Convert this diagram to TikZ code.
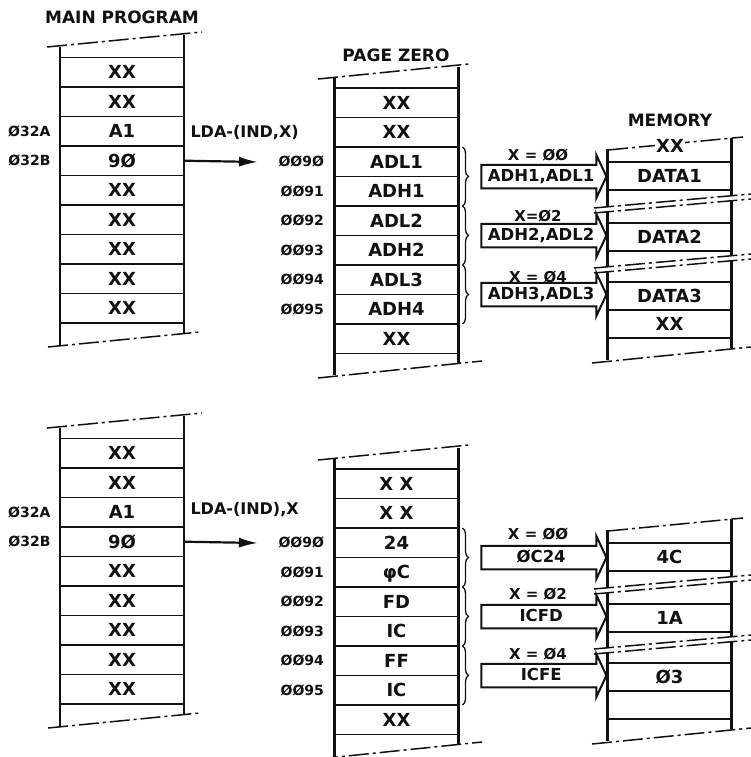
\documentclass[tikz,border=0pt]{standalone}
\usepackage{fontspec}
\setmainfont{DejaVu Sans}
\usepackage{tikz}
\usetikzlibrary{arrows.meta,positioning,calc,shapes.arrows,decorations.pathreplacing}
\usepackage{xcolor}
\definecolor{ink}{HTML}{111111}
\newcommand{\cellfont}{\fontsize{18}{20}\selectfont\bfseries}
\newcommand{\addrfont}{\fontsize{14}{16}\selectfont\bfseries}
\newcommand{\opfont}{\fontsize{16}{18}\selectfont\bfseries}
\newcommand{\titlefont}{\fontsize{17}{19}\selectfont\bfseries}
\newcommand{\eqfont}{\fontsize{15}{17}\selectfont\bfseries}
\newcommand{\boxfont}{\fontsize{16.5}{18}\selectfont\bfseries}
\tikzset{
  every node/.style={font=\cellfont,text=ink},
  cell/.style={draw=ink,line width=1.7pt,minimum width=124pt,minimum height=29.5pt,outer sep=0pt,inner sep=0pt,text height=13pt,text depth=0pt},
  memcell/.style={cell,minimum height=28pt},
  colline/.style={draw=ink,line width=2.2pt},
  cutline/.style={draw=ink,line width=1.5pt,dash pattern=on 20pt off 4pt on 3pt off 4pt},
  cutgap/.style={fill=white},
  title/.style={font=\titlefont},
  addr/.style={font=\addrfont},
  opname/.style={font=\opfont},
  eqlabel/.style={font=\eqfont,inner sep=1pt},
  fatarrow/.style={single arrow,draw=ink,line width=2pt,fill=white,font=\boxfont,single arrow head extend=10pt,single arrow tip angle=130,minimum height=125pt,inner xsep=3pt,inner ysep=4.5pt,text height=11.5pt,text depth=1pt},
  ptr/.style={line width=2.2pt,draw=ink,-{Latex[length=19pt,width=10pt]}},
  pairbrace/.style={draw=ink,line width=1.3pt,decorate,decoration={brace,amplitude=6pt}},
}

\begin{document}
\begin{tikzpicture}[x=1pt,y=-1pt]
\useasboundingbox[fill=white] (0,0) rectangle (751,757);

% ---------- LDA-(IND,X) ----------
\node[title] (tmain) at (122,17) {MAIN PROGRAM};
\node[title] (tpage) at (396,55) {PAGE ZERO};
\node[title] (tmem) at (670,120) {MEMORY};

% main program
\node[cell] (m1) at (122,72.2) {XX};
\node[cell,below=0pt of m1] (m2) {XX};
\node[cell,below=0pt of m2] (m3) {A1};
\node[cell,below=0pt of m3] (m4) {9Ø};
\node[cell,below=0pt of m4] (m5) {XX};
\node[cell,below=0pt of m5] (m6) {XX};
\node[cell,below=0pt of m6] (m7) {XX};
\node[cell,below=0pt of m7] (m8) {XX};
\node[cell,below=0pt of m8] (m9) {XX};
\draw[colline] (60,47) -- (60,345);
\draw[colline] (184,35) -- (184,333);
\draw[cutline] (47,47) -- (202,32);
\draw[cutline] (48,347) -- (200,332);

\node[addr,left=6pt of m3] (m32a) {Ø32A};
\node[addr,left=6pt of m4] (m32b) {Ø32B};
\node[opname,anchor=west] (op1) at (187,133) {LDA-(IND,X)};
\coordinate (lda1) at (258,162);
\draw[ptr] (m4.east) -- (lda1);

% page zero
\node[cell] (p1) at (396.5,102.75) {XX};
\node[cell,below=0pt of p1] (p2) {XX};
\node[cell,below=0pt of p2] (p3) {ADL1};
\node[cell,below=0pt of p3] (p4) {ADH1};
\node[cell,below=0pt of p4] (p5) {ADL2};
\node[cell,below=0pt of p5] (p6) {ADH2};
\node[cell,below=0pt of p6] (p7) {ADL3};
\node[cell,below=0pt of p7] (p8) {ADH4};
\node[cell,below=0pt of p8] (p9) {XX};
\draw[colline] (334.5,78) -- (334.5,375);
\draw[colline] (458.5,67) -- (458.5,363);
\draw[cutline] (318,79) -- (469,64);
\draw[cutline] (318,378) -- (482,361);

\node[addr,left=7pt of p3] (z90) {ØØ9Ø};
\node[addr,left=7pt of p4] (z91) {ØØ91};
\node[addr,left=7pt of p5] (z92) {ØØ92};
\node[addr,left=7pt of p6] (z93) {ØØ93};
\node[addr,left=7pt of p7] (z94) {ØØ94};
\node[addr,left=7pt of p8] (z95) {ØØ95};

\draw[pairbrace] ([xshift=4pt]p3.north east) -- ([xshift=4pt]p4.south east);
\draw[pairbrace] ([xshift=4pt]p5.north east) -- ([xshift=4pt]p6.south east);
\draw[pairbrace] ([xshift=4pt]p7.north east) -- ([xshift=4pt]p8.south east);

% memory
\node[memcell] (d1) at (669.5,176) {DATA1};
\node[memcell] (d2) at (669.5,237) {DATA2};
\node[memcell] (d3) at (669.5,296) {DATA3};
\node[memcell,below=0pt of d3] (d4) {XX};
\draw[colline] (607.5,149) -- (607.5,360);
\draw[colline] (731.5,138) -- (731.5,348);
\draw[cutline] (608,150) -- (743,137);
\node[fill=white,inner sep=1pt] (d0) at (670,146) {XX};
\draw[cutline] (592,363) -- (751,347);

\fill[cutgap] (594,208) -- (751,194) -- (751,199) -- (594,213) -- cycle;
\draw[cutline] (594,208) -- (751,194);
\draw[cutline] (594,213) -- (751,199);
\fill[cutgap] (594,268) -- (751,254) -- (751,259) -- (594,273) -- cycle;
\draw[cutline] (594,268) -- (751,254);
\draw[cutline] (594,273) -- (751,259);

% effective addresses
\node[fatarrow,anchor=tip] (f1) at (d1.west |- p3.south) {ADH1,ADL1};
\node[fatarrow,anchor=tip] (f2) at (d1.west |- p5.south) {ADH2,ADL2};
\node[fatarrow,anchor=tip] (f3) at (d1.west |- p7.south) {ADH3,ADL3};
\node[eqlabel] (x1) at (538,155) {X = ØØ};
\node[eqlabel] (x2) at (538,216) {X=Ø2};
\node[eqlabel] (x3) at (538,277) {X = Ø4};

% ---------- LDA-(IND),X ----------
% main program
\node[cell] (n1) at (122,453.2) {XX};
\node[cell,below=0pt of n1] (n2) {XX};
\node[cell,below=0pt of n2] (n3) {A1};
\node[cell,below=0pt of n3] (n4) {9Ø};
\node[cell,below=0pt of n4] (n5) {XX};
\node[cell,below=0pt of n5] (n6) {XX};
\node[cell,below=0pt of n6] (n7) {XX};
\node[cell,below=0pt of n7] (n8) {XX};
\node[cell,below=0pt of n8] (n9) {XX};
\draw[colline] (60,428) -- (60,726);
\draw[colline] (184,416) -- (184,714);
\draw[cutline] (47,428) -- (202,413);
\draw[cutline] (48,728) -- (200,713);

\node[addr,left=6pt of n3] (n32a) {Ø32A};
\node[addr,left=6pt of n4] (n32b) {Ø32B};
\node[opname,anchor=west] (op2) at (187,510) {LDA-(IND),X};
\coordinate (lda2) at (258,543);
\draw[ptr] (n4.east) -- (lda2);

% page zero
\node[cell] (q1) at (396.5,483.75) {X X};
\node[cell,below=0pt of q1] (q2) {X X};
\node[cell,below=0pt of q2] (q3) {24};
\node[cell,below=0pt of q3] (q4) {φC};
\node[cell,below=0pt of q4] (q5) {FD};
\node[cell,below=0pt of q5] (q6) {IC};
\node[cell,below=0pt of q6] (q7) {FF};
\node[cell,below=0pt of q7] (q8) {IC};
\node[cell,below=0pt of q8] (q9) {XX};
\draw[colline] (334.5,459) -- (334.5,757);
\draw[colline] (458.5,448) -- (458.5,744);
\draw[cutline] (318,460) -- (469,445);
\draw[cutline] (318,759) -- (482,742);

\node[addr,left=7pt of q3] (y90) {ØØ9Ø};
\node[addr,left=7pt of q4] (y91) {ØØ91};
\node[addr,left=7pt of q5] (y92) {ØØ92};
\node[addr,left=7pt of q6] (y93) {ØØ93};
\node[addr,left=7pt of q7] (y94) {ØØ94};
\node[addr,left=7pt of q8] (y95) {ØØ95};

\draw[pairbrace] ([xshift=4pt]q3.north east) -- ([xshift=4pt]q4.south east);
\draw[pairbrace] ([xshift=4pt]q5.north east) -- ([xshift=4pt]q6.south east);
\draw[pairbrace] ([xshift=4pt]q7.north east) -- ([xshift=4pt]q8.south east);

% memory
\node[memcell] (d5) at (669.5,557) {4C};
\node[memcell] (d6) at (669.5,618) {1A};
\node[memcell] (d7) at (669.5,677) {Ø3};
\node[memcell,below=0pt of d7] (d8) {};
\draw[colline] (607.5,530) -- (607.5,741);
\draw[colline] (731.5,519) -- (731.5,729);
\draw[cutline] (608,531) -- (743,518);
\draw[cutline] (592,744) -- (751,728);

\fill[cutgap] (594,589) -- (751,575) -- (751,580) -- (594,594) -- cycle;
\draw[cutline] (594,589) -- (751,575);
\draw[cutline] (594,594) -- (751,580);
\fill[cutgap] (594,649) -- (751,635) -- (751,640) -- (594,654) -- cycle;
\draw[cutline] (594,649) -- (751,635);
\draw[cutline] (594,654) -- (751,640);

% effective addresses
\node[fatarrow,anchor=tip] (f4) at (d5.west |- q3.south) {ØC24};
\node[fatarrow,anchor=tip] (f5) at (d5.west |- q5.south) {ICFD};
\node[fatarrow,anchor=tip] (f6) at (d5.west |- q7.south) {ICFE};
\node[eqlabel] (x4) at (538,534) {X = ØØ};
\node[eqlabel] (x5) at (538,594) {X = Ø2};
\node[eqlabel] (x6) at (538,654) {X = Ø4};

\end{tikzpicture}
\end{document}
